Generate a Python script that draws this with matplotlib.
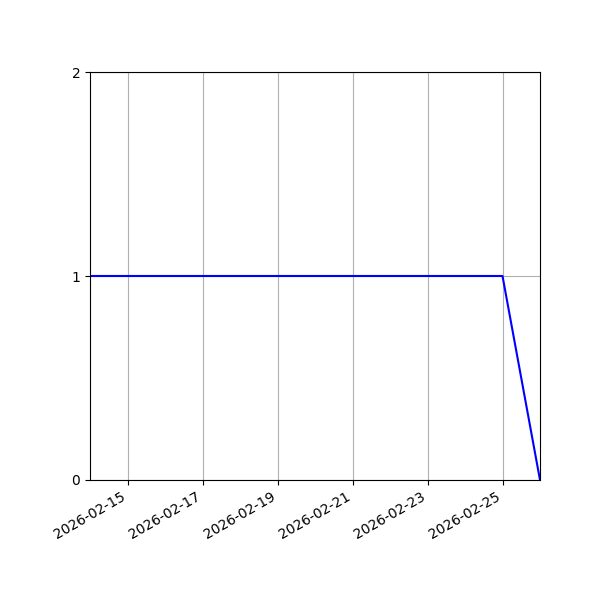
import matplotlib
matplotlib.use("Agg")
import matplotlib.pyplot as plt
import matplotlib.dates as mdates
import numpy as np
import datetime as dt

dates = [dt.date(2026, 2, d) for d in range(14, 27)]
values = [1, 1, 1, 1, 1, 1, 1, 1, 1, 1, 1, 1, 0]

fig, ax = plt.subplots(figsize=(6, 6), dpi=100)
ax.plot(dates, values, color="blue")
ax.set_xlim(dates[0], dates[-1])
ax.set_ylim(0, 2)
ax.set_yticks([0, 1, 2])
ax.xaxis.set_major_locator(mdates.DayLocator(bymonthday=[15, 17, 19, 21, 23, 25]))
ax.xaxis.set_major_formatter(mdates.DateFormatter("%Y-%m-%d"))
ax.grid(True)
fig.autofmt_xdate()
fig.subplots_adjust(left=0.15, right=0.9, top=0.88, bottom=0.2)
fig.savefig("out.png")
